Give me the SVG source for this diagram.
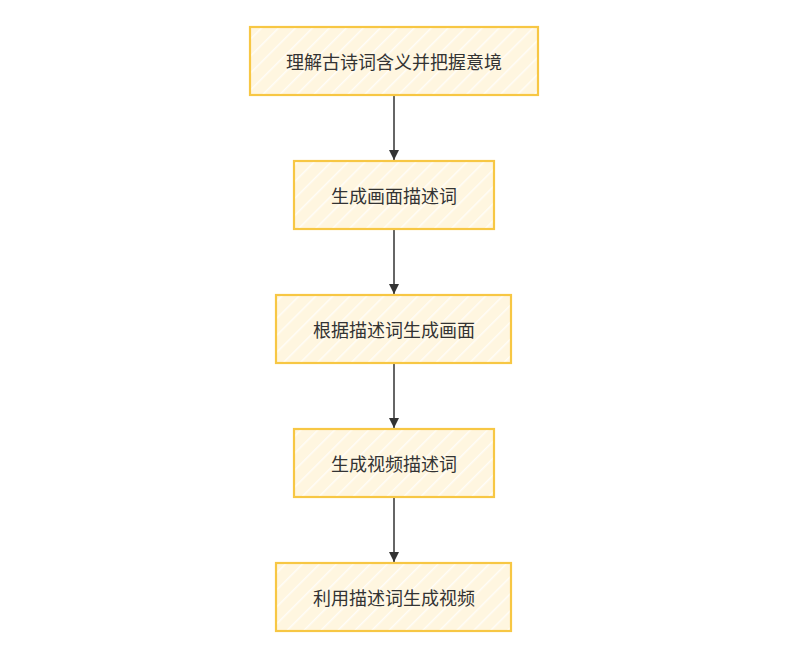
<svg xmlns="http://www.w3.org/2000/svg" width="809" height="652" viewBox="0 0 809 652">
<defs>
<pattern id="hatch" patternUnits="userSpaceOnUse" width="12" height="12" patternTransform="rotate(45)">
<rect width="12" height="12" fill="#fff6e0"/>
<line x1="0" y1="0" x2="0" y2="12" stroke="#fffdf8" stroke-width="3"/>
</pattern>
<marker id="arr" viewBox="0 0 10 10" refX="10" refY="5" markerWidth="10" markerHeight="10" markerUnits="userSpaceOnUse" orient="auto">
<path d="M0,0 L10,5 L0,10 z" fill="#333"/>
</marker>
</defs>
<style>
.box{fill:url(#hatch);stroke:#f7c744;stroke-width:2.2}
.t{font-family:"Noto Sans CJK SC","Noto Sans",sans-serif;font-size:18px;fill:#333;text-anchor:middle;dominant-baseline:central}
.c{stroke:#333;stroke-width:1.5;fill:none;marker-end:url(#arr)}
</style>
<rect width="809" height="652" fill="#fff"/>
<g id="connectors">
<path class="c" d="M394,96 L394,160"/>
<path class="c" d="M394,230 L394,294"/>
<path class="c" d="M394,364 L394,428"/>
<path class="c" d="M394,498 L394,562"/>
</g>
<g id="n1"><rect class="box" x="250" y="27" width="288" height="68"/><text class="t" x="394" y="61">理解古诗词含义并把握意境</text></g>
<g id="n2"><rect class="box" x="294" y="161" width="200" height="68"/><text class="t" x="394" y="195">生成画面描述词</text></g>
<g id="n3"><rect class="box" x="276" y="295" width="235" height="68"/><text class="t" x="394" y="329">根据描述词生成画面</text></g>
<g id="n4"><rect class="box" x="294" y="429" width="200" height="68"/><text class="t" x="394" y="463">生成视频描述词</text></g>
<g id="n5"><rect class="box" x="276" y="563" width="235" height="68"/><text class="t" x="394" y="597">利用描述词生成视频</text></g>
</svg>
